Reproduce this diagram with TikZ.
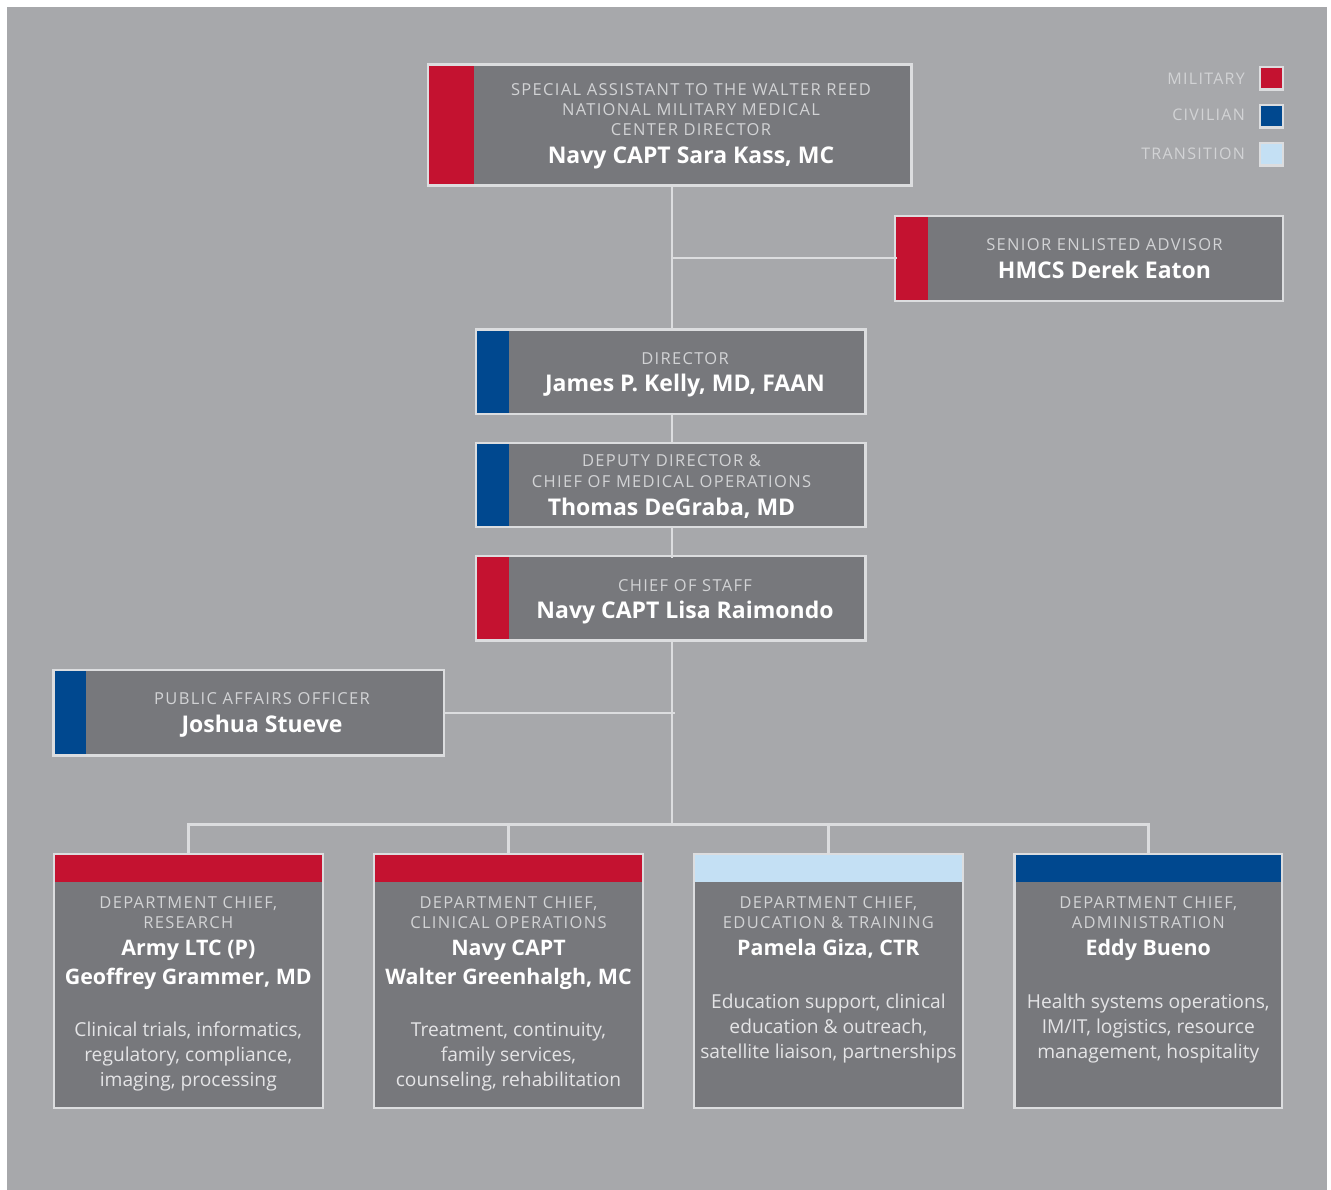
\documentclass[tikz,border=0pt]{standalone}
\usepackage{fontspec}
\setmainfont{Open Sans}
\newfontfamily\capfont[LetterSpace=8]{Open Sans}
\definecolor{bgc}{HTML}{A7A8AB}
\definecolor{boxc}{HTML}{77787C}
\definecolor{borderc}{HTML}{DCDDDF}
\definecolor{milc}{HTML}{C41230}
\definecolor{civc}{HTML}{00488F}
\definecolor{trac}{HTML}{C4E0F4}
\definecolor{capc}{HTML}{D2D3D5}
\definecolor{descc}{HTML}{E4E4E6}
\tikzset{
  conn/.style={draw=borderc, line width=2.6pt, line cap=rect},
  boxnode/.style={rectangle, fill=boxc, inner sep=0pt, outer sep=0pt},
  boxborder/.style={draw=borderc, line width=2.4pt},
  legsq/.style={rectangle, draw=borderc, line width=2.4pt, inner sep=0pt, outer sep=0pt, minimum width=22.6pt, minimum height=22.4pt},
  captxt/.style={anchor=base, inner sep=0pt, text=capc, font=\capfont\fontsize{16.5}{18}\selectfont},
  legtxt/.style={anchor=base east, inner sep=0pt, text=capc, font=\capfont\fontsize{16}{18}\selectfont},
  pname/.style={anchor=base, inner sep=0pt, text=white, font=\bfseries\fontsize{23}{26}\selectfont},
  bname/.style={anchor=base, inner sep=0pt, text=white, font=\bfseries\fontsize{21.4}{24}\selectfont},
  desctxt/.style={anchor=base, inner sep=0pt, text=descc, font=\fontsize{19.2}{22}\selectfont},
}
% side-strip box: name, x1, y1, x2, y2, strip right x, strip colour
\newcommand\sidebox[7]{%
  \node[boxnode, minimum width={#4-#2}, minimum height={#5-#3}] (#1) at ({(#2+#4)/2},{(#3+#5)/2}) {};
  \fill[#7] (#1.north west) rectangle (#6,#5);
  \draw[boxborder] (#1.north west) rectangle (#1.south east);
}
% top-band box: name, x1, y1, x2, y2, band bottom y, band colour
\newcommand\topbox[7]{%
  \node[boxnode, minimum width={#4-#2}, minimum height={#5-#3}] (#1) at ({(#2+#4)/2},{(#3+#5)/2}) {};
  \fill[#7] (#1.north west) rectangle (#4,#6);
  \draw[boxborder] (#1.north west) rectangle (#1.south east);
}
\begin{document}
\begin{tikzpicture}[x=1pt,y=-1pt]
\useasboundingbox (0,0) rectangle (1331,1190);
\fill[bgc] (7,7) rectangle (1327,1190);

% connectors
\coordinate (j1) at (672,258);
\coordinate (j2) at (674,712.8);
\coordinate (bus) at (672,824.5);

% boxes
\sidebox{top}{428.2}{64.5}{911.5}{185.5}{474}{milc}
\sidebox{sea}{895.2}{216.2}{1283}{301}{928.3}{milc}
\sidebox{dir}{476.2}{329.5}{865.5}{413.8}{509}{civc}
\sidebox{dep}{476.2}{443}{865.5}{527}{509}{civc}
\sidebox{cos}{476.2}{556.2}{865.5}{640.5}{509}{milc}
\sidebox{pa}{53.5}{670.2}{443.8}{755.5}{86}{civc}
\topbox{b1}{53.8}{854}{322.9}{1108}{881.7}{milc}
\topbox{b2}{374}{854}{643}{1108}{881.7}{milc}
\topbox{b3}{694}{854}{962.8}{1108}{881.7}{trac}
\topbox{b4}{1014.5}{854}{1282}{1108}{881.7}{civc}

\draw[conn] (j1 |- top.south) -- (j1 |- dir.north);
\draw[conn] (j1) -- (sea.west |- j1);
\draw[conn] (j1 |- dir.south) -- (j1 |- dep.north);
\draw[conn] (j1 |- dep.south) -- (j1 |- cos.north);
\draw[conn] (j1 |- cos.south) -- (bus);
\draw[conn] (pa.east |- j2) -- (j2);
\draw[conn] (b1.north |- bus) -- (b4.north |- bus);
\draw[conn] (b1.north) -- (b1.north |- bus);
\draw[conn] (b2.north) -- (b2.north |- bus);
\draw[conn] (b3.north) -- (b3.north |- bus);
\draw[conn] (b4.north) -- (b4.north |- bus);

% legend
\node[legsq, fill=milc] (lm) at (1271.5,78.4) {};
\node[legsq, fill=civc] (lc) at (1271.5,116.5) {};
\node[legsq, fill=trac] (lt) at (1271.5,154.2) {};
\node[legtxt] (lmt) at (1245,84.3) {MILITARY};
\node[legtxt] (lct) at (1245,121) {CIVILIAN};
\node[legtxt] (ltt) at (1245,159.3) {TRANSITION};

% texts
\node[captxt] (top1) at (691,95.7) {SPECIAL ASSISTANT TO THE WALTER REED};
\node[captxt] (top2) at (691,115.7) {NATIONAL MILITARY MEDICAL};
\node[captxt] (top3) at (691,135.7) {CENTER DIRECTOR};
\node[pname] (top4) at (691,163.3) {Navy CAPT Sara Kass, MC};

\node[captxt] (sea1) at (1104.5,250.7) {SENIOR ENLISTED ADVISOR};
\node[pname] (sea2) at (1104.5,278.3) {HMCS Derek Eaton};

\node[captxt] (dir1) at (685,364.3) {DIRECTOR};
\node[pname] (dir2) at (685,391.7) {James P. Kelly, MD, FAAN};

\node[captxt] (dep1) at (671.5,466.7) {DEPUTY DIRECTOR \&};
\node[captxt] (dep2) at (671.5,487.3) {CHIEF OF MEDICAL OPERATIONS};
\node[pname] (dep3) at (671.5,515) {Thomas DeGraba, MD};

\node[captxt] (cos1) at (685,591.7) {CHIEF OF STAFF};
\node[pname] (cos2) at (685,618.3) {Navy CAPT Lisa Raimondo};

\node[captxt] (pa1) at (262,704) {PUBLIC AFFAIRS OFFICER};
\node[pname] (pa2) at (262,732.7) {Joshua Stueve};

\node[captxt] (b1a) at (188.3,908.3) {DEPARTMENT CHIEF,};
\node[captxt] (b1b) at (188.3,928.3) {RESEARCH};
\node[bname] (b1c) at (188.3,955.5) {Army LTC (P)};
\node[bname] (b1d) at (188.3,984) {Geoffrey Grammer, MD};
\node[desctxt] (b1e) at (188.3,1036.7) {Clinical trials, informatics,};
\node[desctxt] (b1f) at (188.3,1061.7) {regulatory, compliance,};
\node[desctxt] (b1g) at (188.3,1086.7) {imaging, processing};

\node[captxt] (b2a) at (508.5,908.3) {DEPARTMENT CHIEF,};
\node[captxt] (b2b) at (508.5,928.3) {CLINICAL OPERATIONS};
\node[bname] (b2c) at (508.5,955.5) {Navy CAPT};
\node[bname] (b2d) at (508.5,984) {Walter Greenhalgh, MC};
\node[desctxt] (b2e) at (508.5,1036.7) {Treatment, continuity,};
\node[desctxt] (b2f) at (508.5,1061.7) {family services,};
\node[desctxt] (b2g) at (508.5,1086.7) {counseling, rehabilitation};

\node[captxt] (b3a) at (828.4,908.3) {DEPARTMENT CHIEF,};
\node[captxt] (b3b) at (828.4,928.3) {EDUCATION \& TRAINING};
\node[bname] (b3c) at (828.4,955.5) {Pamela Giza, CTR};
\node[desctxt] (b3d) at (828.4,1008.3) {Education support, clinical};
\node[desctxt] (b3e) at (828.4,1033.3) {education \& outreach,};
\node[desctxt] (b3f) at (828.4,1058.3) {satellite liaison, partnerships};

\node[captxt] (b4a) at (1148.3,908.3) {DEPARTMENT CHIEF,};
\node[captxt] (b4b) at (1148.3,928.3) {ADMINISTRATION};
\node[bname] (b4c) at (1148.3,955.5) {Eddy Bueno};
\node[desctxt] (b4d) at (1148.3,1008.3) {Health systems operations,};
\node[desctxt] (b4e) at (1148.3,1033.3) {IM/IT, logistics, resource};
\node[desctxt] (b4f) at (1148.3,1058.3) {management, hospitality};
\end{tikzpicture}
\end{document}
